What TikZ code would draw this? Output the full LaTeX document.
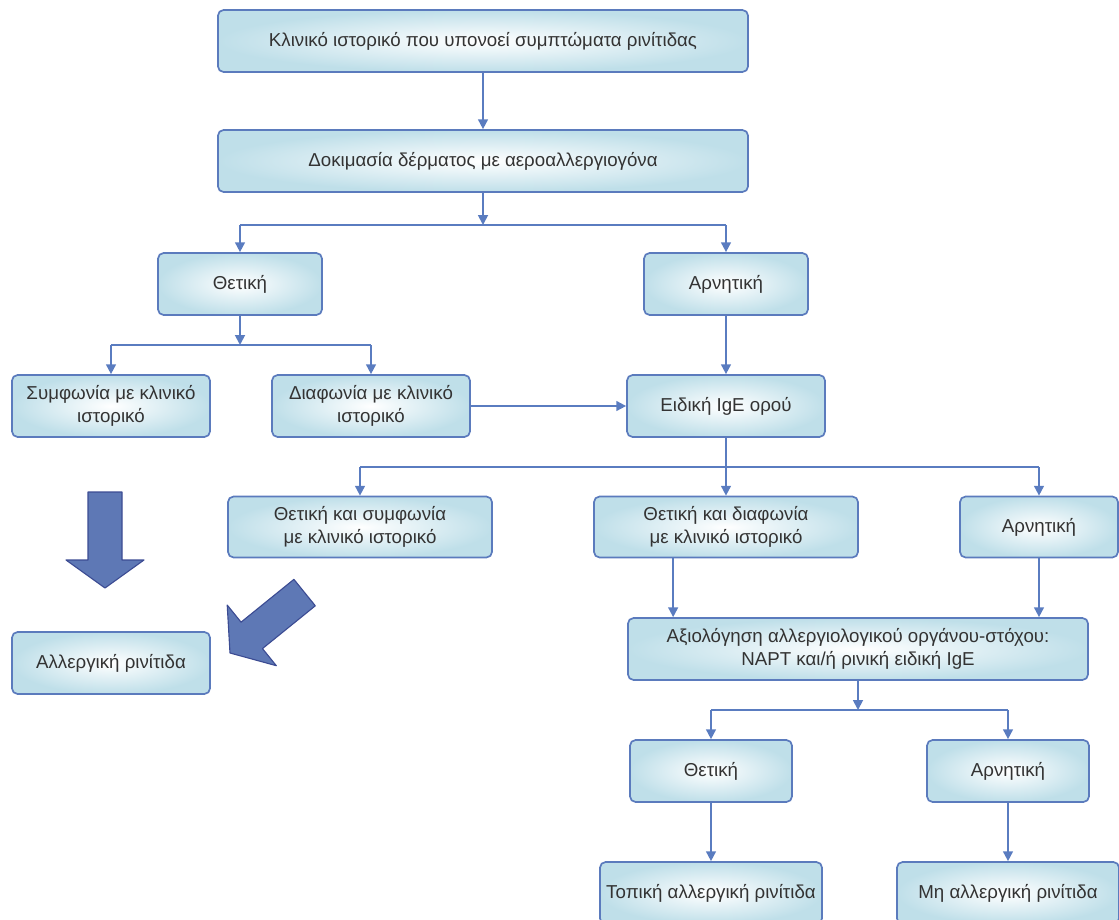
\documentclass[tikz,border=0pt]{standalone}
\usepackage{fontspec}
\setmainfont{Liberation Sans}
\usetikzlibrary{arrows.meta}
\definecolor{boxline}{HTML}{5B7BBD}
\definecolor{boxfill}{HTML}{BFDFE9}
\definecolor{flowline}{HTML}{5A7CC0}
\definecolor{bigfill}{HTML}{5E78B5}
\definecolor{bigline}{HTML}{3C4C93}
\definecolor{txt}{HTML}{333333}

\begin{document}
\begin{tikzpicture}[x=0.025cm,y=0.025cm]
		\tikzstyle{box}=[draw=boxline,line width=1.2pt,rounded corners=4pt,inner color=white,outer color=boxfill,text=txt,align=center,font=\fontsize{13.3}{16.5}\selectfont,minimum height=1.55cm]
		\tikzstyle{flow}=[draw=flowline,line width=1.3pt,-{Triangle[width=7pt,length=7pt]}]
		\tikzstyle{link}=[draw=flowline,line width=1.3pt]
		\tikzstyle{bigarrow}=[fill=bigfill,draw=bigline,line width=0.8pt,line join=round]
		\useasboundingbox (0,0) rectangle (1119,-920);
		% skin test
		\node [box,minimum width=13.25cm] at (483,-41) (hist) {Κλινικό ιστορικό που υπονοεί συμπτώματα ρινίτιδας};
		\node [box,minimum width=13.25cm] at (483,-161) (skin) {Δοκιμασία δέρματος με αεροαλλεργιογόνα};
		\node [box,minimum width=4.1cm] at (240,-284) (pos1) {Θετική};
		\node [box,minimum width=4.1cm] at (726,-284) (neg1) {Αρνητική};
		\node [box,minimum width=4.95cm] at (111,-406) (agree) {Συμφωνία με κλινικό\\ιστορικό};
		\node [box,minimum width=4.95cm] at (371,-406) (disagree) {Διαφωνία με κλινικό\\ιστορικό};
		\node [box,minimum width=4.95cm] at (111,-663) (allergic) {Αλλεργική ρινίτιδα};
		% serum IgE
		\node [box,minimum width=4.95cm] at (726,-406) (ige) {Ειδική IgE ορού};
		\node [box,minimum width=6.6cm,minimum height=1.525cm] at (360,-527) (posagree) {Θετική και συμφωνία\\με κλινικό ιστορικό};
		\node [box,minimum width=6.6cm,minimum height=1.525cm] at (726,-527) (posdis) {Θετική και διαφωνία\\με κλινικό ιστορικό};
		\node [box,minimum width=3.95cm,minimum height=1.525cm] at (1039,-527) (neg2) {Αρνητική};
		% target organ
		\node [box,minimum width=11.5cm] at (858,-649) (organ) {Αξιολόγηση αλλεργιολογικού οργάνου-στόχου:\\NAPT και/ή ρινική ειδική IgE};
		\node [box,minimum width=4.05cm] at (711,-771) (pos3) {Θετική};
		\node [box,minimum width=4.05cm] at (1008,-771) (neg3) {Αρνητική};
		\node [box,minimum width=5.55cm] at (711,-893) (local) {Τοπική αλλεργική ρινίτιδα};
		\node [box,minimum width=5.55cm] at (1008,-893) (nonall) {Μη αλλεργική ρινίτιδα};
		% forks
		\coordinate (j1) at (483,-225);
		\coordinate (j2) at (240,-345);
		\coordinate (j3) at (726,-467);
		\coordinate (j4) at (858,-710);
		\draw [flow] (hist) -- (skin);
		\draw [flow] (skin) -- (j1);
		\draw [link] (j1 -| pos1) -- (j1 -| neg1);
		\draw [flow] (j1 -| pos1) -- (pos1);
		\draw [flow] (j1 -| neg1) -- (neg1);
		\draw [flow] (pos1) -- (j2);
		\draw [link] (j2 -| agree) -- (j2 -| disagree);
		\draw [flow] (j2 -| agree) -- (agree);
		\draw [flow] (j2 -| disagree) -- (disagree);
		\draw [flow] (neg1) -- (ige);
		\draw [flow] (disagree) -- (ige);
		\draw [link] (ige) -- (j3);
		\draw [link] (j3 -| posagree) -- (j3 -| neg2);
		\draw [flow] (j3 -| posagree) -- (posagree);
		\draw [flow] (j3) -- (posdis);
		\draw [flow] (j3 -| neg2) -- (neg2);
		\draw [flow] ([xshift=2cm]posdis.south west) -- ([xshift=2cm]posdis.south west |- organ.north);
		\draw [flow] (neg2.south) -- (neg2.south |- organ.north);
		\draw [flow] (organ) -- (j4);
		\draw [link] (j4 -| pos3) -- (j4 -| neg3);
		\draw [flow] (j4 -| pos3) -- (pos3);
		\draw [flow] (j4 -| neg3) -- (neg3);
		\draw [flow] (pos3) -- (local);
		\draw [flow] (neg3) -- (nonall);
		% big arrows
		\foreach \ax/\ay/\rot in {105/-588/0, 230/-653/-51}
			\draw [bigarrow,shift={(\ax,\ay)},rotate=\rot] (0,0) -- (39,28) -- (17,28) -- (17,96) -- (-17,96) -- (-17,28) -- (-39,28) -- cycle;
	\end{tikzpicture}
\end{document}
